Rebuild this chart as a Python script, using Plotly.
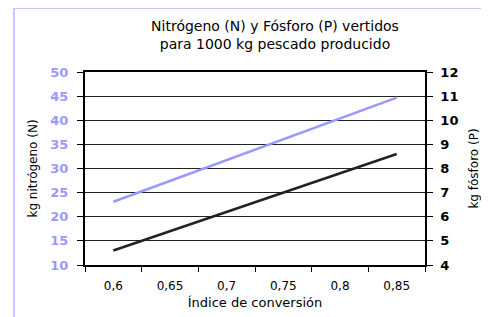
import plotly.graph_objects as go

conversion = [0.6, 0.65, 0.7, 0.75, 0.8, 0.85]
x_labels = ["0,6", "0,65", "0,7", "0,75", "0,8", "0,85"]
nitrogen = [23.1, 27.4, 31.7, 36.0, 40.4, 44.7]
phosphorus = [4.6, 5.4, 6.2, 7.0, 7.8, 8.6]

n_ticks = [10, 15, 20, 25, 30, 35, 40, 45, 50]
p_ticks = [4, 5, 6, 7, 8, 9, 10, 11, 12]

title_lines = ["Nitrógeno (N) y Fósforo (P) vertidos", "para 1000 kg pescado producido"]
font = "DejaVu Sans"

fig = go.Figure()
fig.add_trace(go.Scatter(x=x_labels, y=nitrogen, mode="lines", name="N",
                         line=dict(color="#9999FF", width=2.5), yaxis="y", xaxis="x"))
fig.add_trace(go.Scatter(x=x_labels, y=phosphorus, mode="lines", name="P",
                         line=dict(color="#222222", width=2.5), yaxis="y2", xaxis="x"))
# empty trace so that the frame subplot (x3/y3) gets drawn
fig.add_trace(go.Scatter(x=[], y=[], mode="lines", xaxis="x3", yaxis="y3",
                         hoverinfo="skip", showlegend=False))

n = len(conversion)
# page body adds an 8px offset; the figure region starts at the lavender chart frame
W, H = 481, 309
ml, mt = 7, 1
reg_w, reg_h = W - ml, H - mt
xdom = [(77 - ml) / reg_w, (417 - ml) / reg_w]
ydom = [(H - 257) / reg_h, (H - 64) / reg_h]

fig.update_layout(
    width=W, height=H,
    margin=dict(l=ml, r=0, t=mt, b=0, autoexpand=False),
    paper_bgcolor="white", plot_bgcolor="rgba(0,0,0,0)",
    showlegend=False,
    font=dict(family=font, color="black"),
    title=dict(text="<br>".join(title_lines), x=(267 - ml) / reg_w, xref="paper",
               xanchor="center", y=0.925, yanchor="top",
               font=dict(family=font, size=14, color="black")),
    xaxis=dict(domain=xdom, anchor="y", type="category", categoryorder="array",
               categoryarray=x_labels,
               range=[-0.5, n - 0.5], tickson="boundaries", ticks="outside",
               ticklen=5, tickwidth=1, tickcolor="black",
               showline=True, linecolor="black", linewidth=2, mirror=True,
               showgrid=False, tickfont=dict(size=12, color="black"),
               ticklabelstandoff=9,
               title=dict(text="Índice de conversión", font=dict(size=13), standoff=5)),
    xaxis2=dict(domain=xdom, anchor="y", overlaying="x", type="linear", range=[-0.5, n - 0.5],
                tickvals=[i - 0.5 for i in range(n + 1)], ticks="inside",
                ticklen=7, tickwidth=1, tickcolor="black", showticklabels=False,
                showgrid=False, showline=False, zeroline=False, side="bottom"),
    yaxis=dict(domain=ydom, anchor="x", range=[10, 50], tickvals=n_ticks,
               ticktext=[f"<b>{v}</b>" for v in n_ticks],
               ticks="outside", ticklen=6, tickcolor="black",
               showline=True, linecolor="black", linewidth=2,
               showgrid=True, gridcolor="#222222", gridwidth=1, zeroline=False,
               tickfont=dict(size=13, color="#9999FF"),
               ticklabelstandoff=6,
               title=dict(text="kg nitrógeno (N)", font=dict(size=12), standoff=10)),
    yaxis2=dict(domain=ydom, anchor="x", range=[4, 12], tickvals=p_ticks,
                ticktext=[f"<b>{v}</b>" for v in p_ticks],
                overlaying="y", side="right",
                ticks="outside", ticklen=6, tickcolor="black",
                showline=True, linecolor="black", linewidth=1.5,
                showgrid=False, zeroline=False,
                tickfont=dict(size=13, color="black"),
                ticklabelstandoff=5,
                title=dict(text="kg fósforo (P)", font=dict(size=12), standoff=12)),
    # frame axes: their lines draw the lavender chart border (left and top edges)
    xaxis3=dict(domain=[0, 1], anchor="y3", side="top", range=[0, 1],
                showline=True, linecolor="#C8C8FF", linewidth=2,
                showgrid=False, zeroline=False, showticklabels=False, ticks=""),
    yaxis3=dict(domain=[0, 1], anchor="x3", side="left", range=[0, 1],
                showline=True, linecolor="#C8C8FF", linewidth=2,
                showgrid=False, zeroline=False, showticklabels=False, ticks=""),
)

fig.write_html("out.html")
